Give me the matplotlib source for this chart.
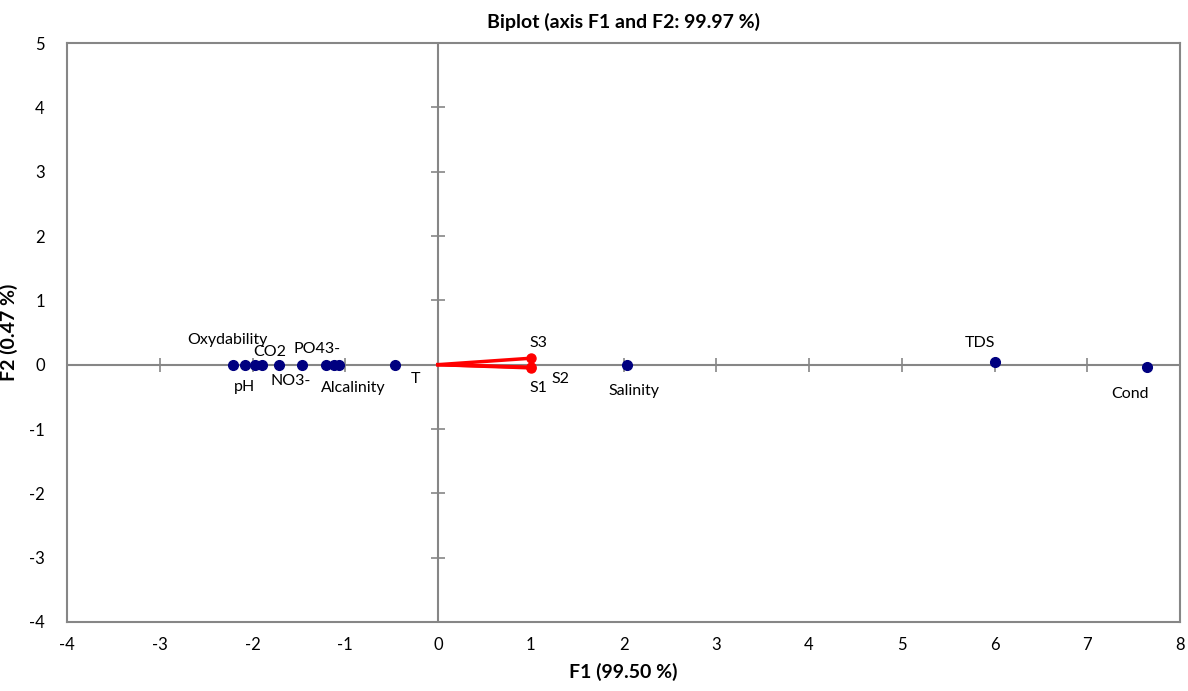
import matplotlib
matplotlib.use("Agg")
import matplotlib.pyplot as plt
import numpy as np

plt.rcParams['font.family'] = ['Lato', 'DejaVu Sans']
plt.rcParams['axes.unicode_minus'] = False

# Variables (blue points)
var_names = ["Oxydability", "pH", "", "CO2", "NO3-", "PO43-", "", "Alcalinity", "", "T",
             "Salinity", "TDS", "Cond"]
var_f1 = [-2.213, -2.081, -1.973, -1.901, -1.711, -1.470, -1.211, -1.121, -1.067, -0.464,
          2.034, 6.005, 7.641]
var_f2 = [0.0, 0.0, 0.0, 0.0, 0.0, 0.0, 0.0, 0.0, 0.0, 0.0, 0.0, 0.037, -0.030]

# Observations (red vectors)
obs_names = ["S1", "S2", "S3"]
obs_f1 = [1.0, 1.0, 1.0]
obs_f2 = [-0.05, -0.04, 0.10]

x_ticks = list(range(-4, 9))
y_ticks = list(range(-4, 6))

# label offsets in pixels (style/position)
var_off = {"Oxydability": (-5, 25), "pH": (0, -22), "CO2": (8, 13), "NO3-": (11, -16),
           "PO43-": (15, 16), "Alcalinity": (19, -23), "T": (21, -14),
           "Salinity": (7, -26), "TDS": (-15, 19), "Cond": (-17, -27)}
obs_off = {"S1": (8, -20), "S2": (30, -12), "S3": (8, 15)}

fig = plt.figure(figsize=(11.88, 6.91), dpi=100)
ax = fig.add_axes([67/1188, 1-622/691, (1180-67)/1188, (622-43)/691])

grey = "#868686"
ax.set_xlim(-4, 8)
ax.set_ylim(-4, 5)
for s in ax.spines.values():
    s.set_color(grey)
    s.set_linewidth(1.5)
ax.set_xticks(x_ticks)
ax.set_yticks(y_ticks)
ax.tick_params(length=0, labelsize=12, pad=11)
ax.tick_params(axis='y', pad=16)

# zero axes with cross ticks
ax.axhline(0, color=grey, lw=1.5, zorder=1)
ax.axvline(0, color=grey, lw=1.5, zorder=1)
ax.plot(x_ticks, [0]*len(x_ticks), ls='none', marker='|', ms=10, mew=1.2, color=grey, zorder=1)
ax.plot([0]*len(y_ticks), y_ticks, ls='none', marker='_', ms=10, mew=1.2, color=grey, zorder=1)

# red vectors
for n, x, y in zip(obs_names, obs_f1, obs_f2):
    ax.plot([0, x], [0, y], color="#ff0000", lw=2.5, zorder=3)
    ax.plot([x], [y], marker='o', ms=6.5, color="#ff0000", zorder=4)
    ax.annotate(n, (x, y), xytext=obs_off[n], textcoords='offset pixels',
                ha='center', va='center', fontsize=11.5)

# blue points
ax.plot(var_f1, var_f2, ls='none', marker='o', ms=7, color="#000080", zorder=5)
for n, x, y in zip(var_names, var_f1, var_f2):
    if n:
        ax.annotate(n, (x, y), xytext=var_off[n], textcoords='offset pixels',
                    ha='center', va='center', fontsize=11.5)

ax.set_title("Biplot (axis F1 and F2: 99.97 %)", fontsize=14, fontweight='bold', pad=11)
ax.set_xlabel("F1 (99.50 %)", fontsize=14, fontweight='bold', labelpad=7)
ax.set_ylabel("F2 (0.47 %)", fontsize=14, fontweight='bold')
ax.yaxis.set_label_coords((18 - 67) / 1113, 0.5)

fig.savefig("out.png", dpi=100)
